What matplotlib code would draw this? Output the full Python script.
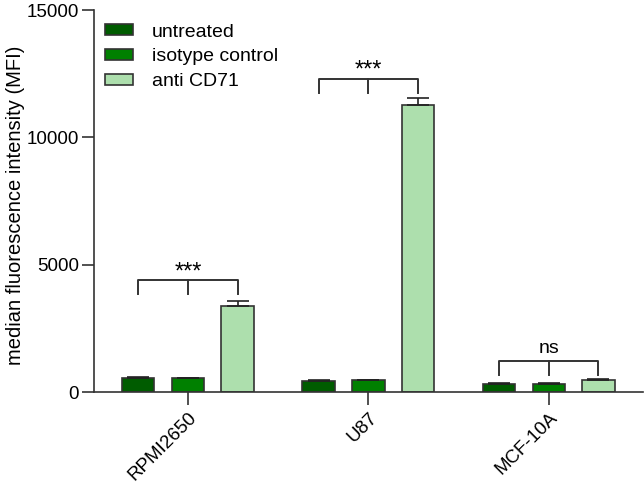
import matplotlib
matplotlib.use("Agg")
import matplotlib.pyplot as plt
import numpy as np

plt.rcParams['font.family'] = ['Liberation Sans', 'DejaVu Sans']

#------------------------------------------------------------------------------
# Data
#------------------------------------------------------------------------------

cells = ["RPMI2650", "U87", "MCF-10A"]
series = ["untreated", "isotype control", "anti CD71"]
untreated = [560, 440, 340]
isotype = [540, 460, 320]
anti_cd71 = [3400, 11270, 470]
untreated_err = [40, 40, 30]
isotype_err = [30, 30, 30]
anti_cd71_err = [200, 280, 40]
sig_labels = ["***", "***", "ns"]
sig_heights = [4400, 12300, 1220]

colors = ["#005c00", "#008000", "#addfad"]

#------------------------------------------------------------------------------
# Plot
#------------------------------------------------------------------------------

fig = plt.figure(figsize=(6.44, 4.83), dpi=100)
ax = fig.add_axes([0.146, 0.188, 0.852, 0.791])

x = np.arange(len(cells))
offset = 0.275
width = 0.18
values = [untreated, isotype, anti_cd71]
errors = [untreated_err, isotype_err, anti_cd71_err]

for i, (vals, errs) in enumerate(zip(values, errors)):
    xs = x + (i - 1) * offset
    ax.bar(xs, vals, width=width, color=colors[i], edgecolor="#333333",
           linewidth=1.2, label=series[i], zorder=2)
    ax.errorbar(xs, vals, yerr=[np.zeros(len(errs)), errs], fmt="none",
                ecolor="#222222", elinewidth=1.2, capsize=8, capthick=1.2,
                zorder=3)

# significance brackets
for i in range(len(cells)):
    h = sig_heights[i]
    drop = 550
    xl, xm, xr = x[i] - offset, x[i], x[i] + offset
    ax.plot([xl, xl, xr, xr], [h - drop, h, h, h - drop], color="#333333",
            lw=1.4, zorder=4)
    ax.plot([xm, xm], [h, h - drop], color="#333333", lw=1.4, zorder=4)
    if sig_labels[i] == "ns":
        ax.text(xm, h + 150, "ns", ha="center", va="bottom", fontsize=14)
    else:
        ax.text(xm, h - 120, sig_labels[i], ha="center", va="bottom",
                fontsize=17)

ax.set_xlim(-0.52, 2.52)
ax.set_ylim(0, 15000)
ax.set_yticks([0, 5000, 10000, 15000])
ax.set_xticks(x)
ax.set_xticklabels(cells, rotation=45, ha="right", rotation_mode="anchor")
ax.tick_params(axis="both", labelsize=13.5, length=9, width=1.2,
               color="#333333", direction="out")
ax.tick_params(axis="x", pad=3)
ax.tick_params(axis="y", pad=2)
ax.set_ylabel("median fluorescence intensity (MFI)", fontsize=14.5)
ax.yaxis.set_label_coords(-0.125, 0.49)

for s in ["top", "right"]:
    ax.spines[s].set_visible(False)
for s in ["left", "bottom"]:
    ax.spines[s].set_linewidth(1.2)
    ax.spines[s].set_color("#333333")

ax.legend(loc="upper left", frameon=False, fontsize=14, handlelength=1.45,
          handleheight=0.5, handletextpad=1.0, labelspacing=0.4,
          borderaxespad=0.0, bbox_to_anchor=(0.005, 0.985))

fig.savefig("out.png", dpi=100)
